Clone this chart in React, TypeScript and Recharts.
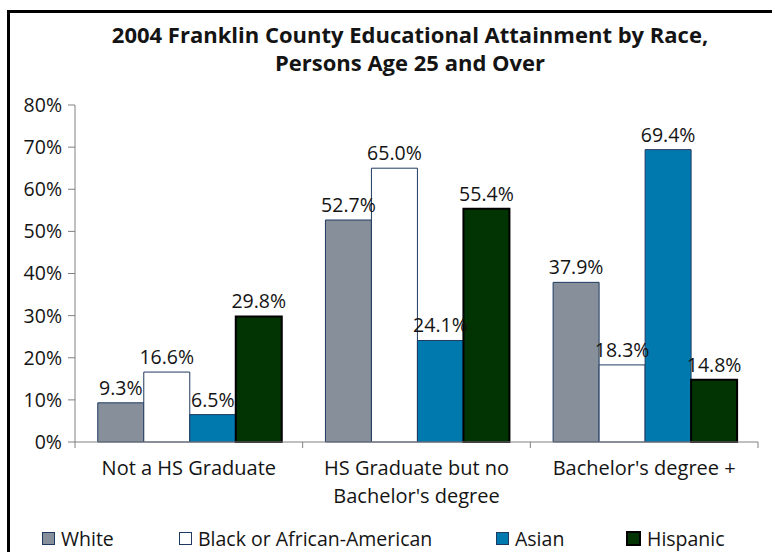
import React from 'react';
import { BarChart, Bar, XAxis, YAxis, LabelList } from 'recharts';

const categories = ['Not a HS Graduate', "HS Graduate but no\nBachelor's degree", "Bachelor's degree +"];
const whiteValues = [9.3, 52.7, 37.9];
const blackValues = [16.6, 65.0, 18.3];
const asianValues = [6.5, 24.1, 69.4];
const hispanicValues = [29.8, 55.4, 14.8];
const yTicks = [0, 10, 20, 30, 40, 50, 60, 70, 80];

const series = [
  { key: 'white', name: 'White', fill: '#87909a', stroke: '#1f3a60', width: 1 },
  { key: 'black', name: 'Black or African-American', fill: '#ffffff', stroke: '#1f3a60', width: 1 },
  { key: 'asian', name: 'Asian', fill: '#0079ae', stroke: '#1f3a60', width: 1 },
  { key: 'hispanic', name: 'Hispanic', fill: '#023302', stroke: '#000000', width: 2 },
];

const chartData = categories.map((name, i) => ({
  name,
  white: whiteValues[i],
  black: blackValues[i],
  asian: asianValues[i],
  hispanic: hispanicValues[i],
}));

const TEXT = '#141414';
const AXIS = '#808080';
const HALF_BAND = (772 - 75 - 14) / 6;

function CategoryTick(props: any) {
  const { x, y, payload, index } = props;
  const lines = String(payload.value).split('\n');
  return (
    <g>
      <line x1={x - HALF_BAND} x2={x - HALF_BAND} y1={y} y2={y + 6} stroke={AXIS} />
      {index === categories.length - 1 && (
        <line x1={x + HALF_BAND} x2={x + HALF_BAND} y1={y} y2={y + 6} stroke={AXIS} />
      )}
      {lines.map((line, i) => (
        <text key={i} x={x} y={y + 33 + i * 28} textAnchor="middle" fill={TEXT} fontSize={20}>
          {line}
        </text>
      ))}
    </g>
  );
}

const legendX = [42, 179, 496, 626];

export default function App() {
  return (
    <div style={{ position: 'relative', width: 772, height: 552, overflow: 'hidden', fontFamily: "'Open Sans', sans-serif", background: '#fff' }}>
      <style>{'body{margin:0}'}</style>
      <div style={{ position: 'absolute', left: 7, top: 10, width: 900, height: 700, borderLeft: '3px solid #000', borderTop: '3px solid #000' }} />
      <div style={{ position: 'absolute', left: 10, width: 800, top: 20, textAlign: 'center', fontWeight: 700, fontSize: 22, lineHeight: '28px', color: TEXT }}>
        2004 Franklin County Educational Attainment by Race,
        <br />
        Persons Age 25 and Over
      </div>
      <div style={{ position: 'absolute', left: 0, top: 0 }}>
        <BarChart width={772} height={552} data={chartData} margin={{ top: 105, right: 14, left: 0, bottom: 50 }} barCategoryGap="10%" barGap={0}>
          <XAxis dataKey="name" height={60} axisLine={{ stroke: AXIS }} tickLine={false} tickSize={0} tickMargin={0} tick={<CategoryTick />} interval={0} />
          <YAxis
            width={75}
            domain={[0, 80]}
            ticks={yTicks}
            tickFormatter={(v: number) => `${v}%`}
            axisLine={{ stroke: AXIS }}
            tickLine={{ stroke: AXIS }}
            tickSize={7}
            tickMargin={6}
            tick={{ fill: TEXT, fontSize: 19.5 }}
          />
          {series.map((s) => (
            <Bar key={s.key} dataKey={s.key} name={s.name} fill={s.fill} stroke={s.stroke} strokeWidth={s.width} isAnimationActive={false}>
              <LabelList dataKey={s.key} position="top" offset={8} fill={TEXT} fontSize={19.5} formatter={(v: any) => `${Number(v).toFixed(1)}%`} />
            </Bar>
          ))}
        </BarChart>
      </div>
      {series.map((s, i) => (
        <div key={s.key} style={{ position: 'absolute', left: legendX[i], top: 525, height: 26, display: 'flex', alignItems: 'center', fontSize: 19.5, color: TEXT }}>
          <span style={{ display: 'inline-block', width: 11, height: 11, background: s.fill, border: `${s.width === 2 ? 2 : 1.5}px solid ${s.stroke}`, marginRight: 6 }} />
          {s.name}
        </div>
      ))}
    </div>
  );
}
